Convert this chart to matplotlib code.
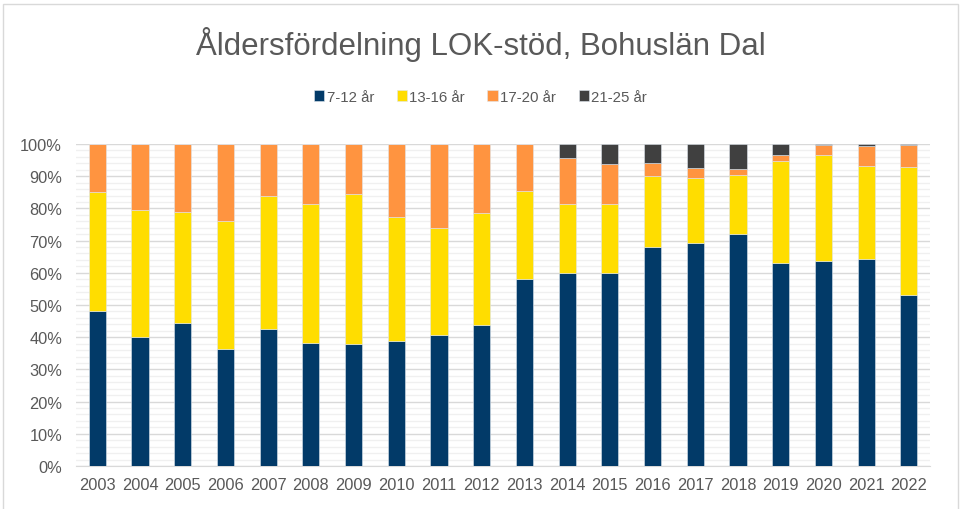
import matplotlib
matplotlib.use("Agg")
import matplotlib.pyplot as plt
import numpy as np
from matplotlib.ticker import MultipleLocator, PercentFormatter

plt.rcParams["font.family"] = ["Liberation Sans", "DejaVu Sans"]

years = [str(y) for y in range(2003, 2023)]
series_names = ["7-12 år", "13-16 år", "17-20 år", "21-25 år"]
colors = ["#023A68", "#FFDD00", "#FF9440", "#404040"]

# shares in percent
age_7_12 = [48.2, 40.2, 44.4, 36.2, 42.5, 38.3, 37.9, 38.7, 40.8, 43.7,
            58.1, 60.0, 59.9, 67.9, 69.4, 72.0, 63.0, 63.6, 64.4, 53.0]
age_13_16 = [36.9, 39.2, 34.6, 40.0, 41.4, 43.2, 46.5, 38.7, 33.1, 34.8,
             27.3, 21.4, 21.5, 22.3, 19.9, 18.3, 31.6, 33.1, 28.9, 39.8]
age_17_20 = [14.9, 20.6, 21.0, 23.8, 16.1, 18.5, 15.6, 22.6, 26.1, 21.5,
             14.6, 14.1, 12.3, 4.0, 3.2, 2.0, 2.1, 3.0, 6.2, 6.9]
age_21_25 = [0, 0, 0, 0, 0, 0, 0, 0, 0, 0,
             0, 4.5, 6.3, 5.8, 7.5, 7.7, 3.3, 0.3, 0.5, 0.3]

data = [age_7_12, age_13_16, age_17_20, age_21_25]

fig = plt.figure(figsize=(9.61, 5.10), dpi=100)
ax = fig.add_axes([0.079, 0.0843, 0.889, 0.6314])

# chart frame
fig.patches.append(plt.Rectangle((0.003, -0.01), 0.994, 1.0, transform=fig.transFigure,
                                 fill=False, edgecolor="#d9d9d9", linewidth=1))

x = np.arange(len(years))
bottom = np.zeros(len(years))
for name, vals, c in zip(series_names, data, colors):
    vals = np.array(vals)
    ax.bar(x, vals, 0.4, bottom=bottom, color=c, label=name,
           edgecolor="#dfe6ee", linewidth=0.4, zorder=3)
    bottom += vals

ax.set_ylim(0, 100)
ax.set_xlim(-0.5, len(years) - 0.5)
ax.yaxis.set_major_locator(MultipleLocator(10))
ax.yaxis.set_minor_locator(MultipleLocator(2))
ax.yaxis.set_major_formatter(PercentFormatter(decimals=0))
ax.grid(axis="y", which="major", color="#d9d9d9", linewidth=1, zorder=0)
ax.grid(axis="y", which="minor", color="#f0f0f0", linewidth=1, zorder=0)
ax.set_xticks(x)
ax.set_xticklabels(years)
ax.tick_params(axis="both", which="both", length=0, labelsize=11.8, colors="#595959")
ax.tick_params(axis="x", pad=8)
ax.tick_params(axis="y", pad=10)
for s in ["top", "right", "left"]:
    ax.spines[s].set_visible(False)
ax.spines["bottom"].set_color("#d9d9d9")

fig.text(0.5, 0.912, "Åldersfördelning LOK-stöd, Bohuslän Dal", ha="center", va="center",
         fontsize=22.5, color="#595959")
fig.legend(loc="center", bbox_to_anchor=(0.5, 0.808), ncol=4, frameon=False,
           fontsize=10.8, handlelength=0.7, handleheight=0.7, handletextpad=0.15,
           columnspacing=1.5, labelcolor="#595959")

fig.savefig("out.png", dpi=100)
